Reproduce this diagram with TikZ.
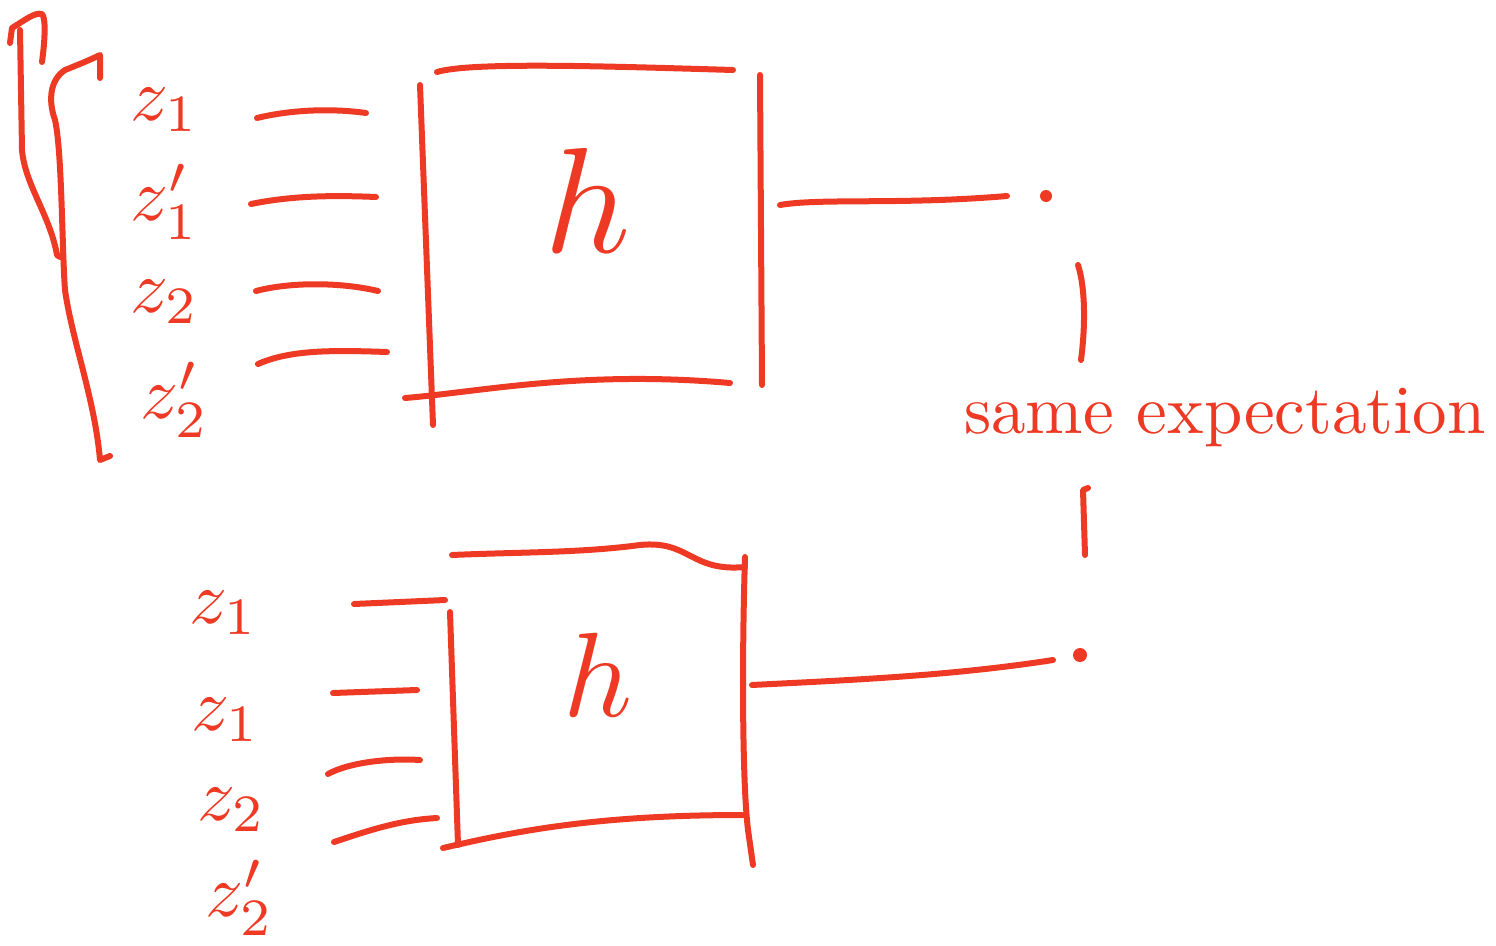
\documentclass[tikz,border=0pt]{standalone}
\definecolor{ink}{RGB}{238,58,36}
\begin{document}
\begin{tikzpicture}[x=1pt,y=-1pt,
  stroke/.style={draw=ink,line width=6pt,line cap=round,line join=round},
  lab/.style={text=ink,scale=7.5,inner sep=0pt},
  bigh/.style={text=ink,scale=15,inner sep=0pt},
  txt/.style={text=ink,scale=6.9,inner sep=0pt},
  dot/.style={circle,fill=ink,inner sep=0pt,minimum size=11pt}]
\useasboundingbox (0,0) rectangle (1496,945);

% left brackets
\draw[stroke] (10,43) -- (12,28) .. controls (25,20) and (35,12) .. (42,14) .. controls (46,18) and (45,40) .. (42,62);
\draw[stroke] (20,30) -- (22,150) .. controls (25,185) and (50,215) .. (57,255) -- (60,257);
\draw[stroke] (100,78) -- (100,55) .. controls (90,60) and (75,66) .. (65,70) .. controls (50,80) and (48,100) .. (55,120) .. controls (62,150) and (62,250) .. (65,290) .. controls (72,340) and (95,400) .. (100,460) -- (110,456);

% top labels
\node[lab] (a1) at (165,110) {$z_1$};
\node[lab] (a2) at (165,202) {$z'_1$};
\node[lab] (a3) at (165,302) {$z_2$};
\node[lab] (a4) at (175,400) {$z'_2$};

% top box
\draw[stroke] (437,72) .. controls (470,62) and (600,66) .. (733,70);
\draw[stroke] (420,85) -- (433,425);
\draw[stroke] (760,75) -- (762,385);
\draw[stroke] (405,398) .. controls (480,392) and (580,370) .. (730,383);
\node[bigh] (hT) at (588,200) {$h$};

% top inputs
\coordinate (a1s) at (257,118); \coordinate (a1e) at (366,113);
\coordinate (a2s) at (251,204); \coordinate (a2e) at (376,197);
\coordinate (a3s) at (256,291); \coordinate (a3e) at (378,291);
\coordinate (a4s) at (258,364); \coordinate (a4e) at (387,352);
\draw[stroke] (a1s) .. controls (290,110) and (330,108) .. (a1e);
\draw[stroke] (a2s) .. controls (290,196) and (330,195) .. (a2e);
\draw[stroke] (a3s) .. controls (290,282) and (340,282) .. (a3e);
\draw[stroke] (a4s) .. controls (290,350) and (330,350) .. (a4e);

% top output
\coordinate (oTs) at (780,205); \coordinate (oTe) at (1007,196);
\draw[stroke] (oTs) .. controls (820,198) and (900,205) .. (oTe);
\node[dot,minimum size=12pt] (dT) at (1046,196) {};

% same expectation
\coordinate (v1s) at (1078,265); \coordinate (v1e) at (1081,360);
\draw[stroke] (v1s) .. controls (1086,290) and (1085,330) .. (v1e);
\node[txt] (se) at (1225,418) {same expectation};
\coordinate (v2s) at (1088,488); \coordinate (v2e) at (1085,555);
\draw[stroke] (v2s) -- (1083,490) -- (v2e);

% bottom labels
\node[lab] (b1) at (224,613) {$z_1$};
\node[lab] (b2) at (226,720) {$z_1$};
\node[lab] (b3) at (232,810) {$z_2$};
\node[lab] (b4) at (240,898) {$z'_2$};

% bottom box
\draw[stroke] (452,555) .. controls (520,552) and (580,553) .. (640,545) .. controls (690,540) and (690,572) .. (745,567);
\draw[stroke] (450,612) -- (458,845);
\draw[stroke] (745,557) .. controls (742,650) and (742,780) .. (748,830) -- (753,865);
\draw[stroke] (443,848) .. controls (520,830) and (600,815) .. (743,815);
\node[bigh,scale=0.8] (hB) at (598,675) {$h$};

% bottom inputs
\coordinate (b1s) at (354,604); \coordinate (b1e) at (445,600);
\coordinate (b2s) at (333,693); \coordinate (b2e) at (417,690);
\coordinate (b3s) at (328,774); \coordinate (b3e) at (420,760);
\coordinate (b4s) at (334,842); \coordinate (b4e) at (437,818);
\draw[stroke] (b1s) -- (b1e);
\draw[stroke] (b2s) -- (b2e);
\draw[stroke] (b3s) .. controls (350,762) and (390,758) .. (b3e);
\draw[stroke] (b4s) .. controls (370,830) and (400,820) .. (b4e);

% bottom output
\coordinate (oBs) at (752,685); \coordinate (oBe) at (1053,660);
\draw[stroke] (oBs) .. controls (850,680) and (950,676) .. (oBe);
\node[dot,minimum size=14pt] (dB) at (1080,655) {};
\end{tikzpicture}
\end{document}
